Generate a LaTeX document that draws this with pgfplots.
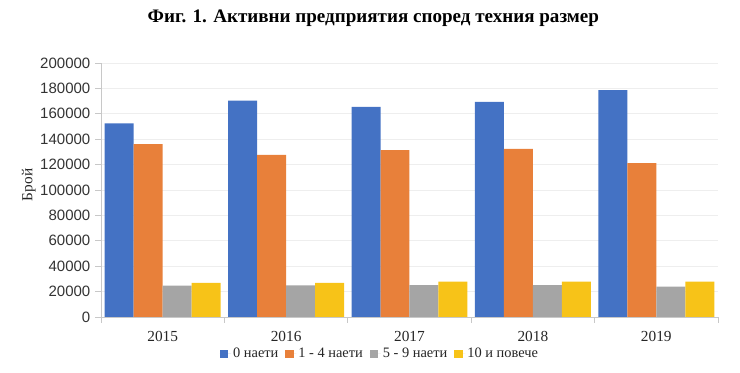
\documentclass[border=0pt]{standalone}
\usepackage{fontspec}
\setmainfont{Liberation Serif}
\newfontfamily\sansf{Liberation Sans}
\usepackage{pgfplots}
\pgfplotsset{compat=1.18}
\definecolor{cBlue}{HTML}{4472C4}
\definecolor{cOrange}{HTML}{E8803A}
\definecolor{cGray}{HTML}{A5A5A5}
\definecolor{cYellow}{HTML}{F7C318}
\definecolor{axgray}{HTML}{C8C8C8}
\definecolor{gridgray}{HTML}{EEEEEE}
\begin{document}
\begin{tikzpicture}
\useasboundingbox (0,0) rectangle (555pt,279.75pt);
\node[font=\fontsize{14.3}{16}\selectfont\bfseries] at (280pt,266.25pt) {Фиг. 1. Активни предприятия според техния размер};
\begin{axis}[
  at={(75.75pt,42pt)}, anchor=south west,
  scale only axis, width=462.75pt, height=190.5pt,
  xmin=-0.5, xmax=4.5, ymin=0, ymax=200000,
  ybar,
  axis lines*=left,
  axis line style={draw=axgray},
  tick style={draw=axgray, line width=0.6pt},
  tick align=outside,
  major tick length=4.5pt,
  xtick={-0.5,0.5,1.5,2.5,3.5,4.5},
  x tick label as interval,
  xticklabels={2015,2016,2017,2018,2019},
  xticklabel style={font=\fontsize{11.5}{13}\selectfont, text=black!85, yshift=-5pt, inner sep=1pt},
  ytick={0,20000,...,200000},
  ymajorgrids,
  major grid style={draw=gridgray, line width=0.6pt},
  scaled y ticks=false,
  yticklabel style={font=\sansf\fontsize{11.25}{13}\selectfont, text=black!80,
    /pgf/number format/.cd, fixed, 1000 sep={}, assume math mode=true},
  ylabel={Брой},
  ylabel style={at={(axis description cs:-0.117,0.52)}, anchor=center, font=\fontsize{11.5}{13}\selectfont, text=black!85},
  legend style={at={(axis description cs:0.452,-0.145)}, anchor=center, draw=none,
    font=\fontsize{10.8}{12}\selectfont, text=black!85, legend columns=-1,
    /tikz/every even column/.append style={column sep=3.5pt},
    inner sep=0pt, nodes={inner sep=1.5pt}},
  legend image code/.code={\fill[#1] (0pt,-3.2pt) rectangle (6.4pt,3.2pt); \path (0pt,0pt) -- (8.5pt,0pt);},
]
\addplot[draw=none, fill=cBlue, bar width=0.235, bar shift=-0.3525] coordinates {(0,152400) (1,170300) (2,165500) (3,169300) (4,178700)};
\addplot[draw=none, fill=cOrange, bar width=0.235, bar shift=-0.1175] coordinates {(0,136100) (1,127700) (2,131400) (3,132400) (4,121200)};
\addplot[draw=none, fill=cGray, bar width=0.235, bar shift=0.1175] coordinates {(0,24700) (1,24800) (2,25000) (3,25000) (4,24000)};
\addplot[draw=none, fill=cYellow, bar width=0.235, bar shift=0.3525] coordinates {(0,26800) (1,26800) (2,27900) (3,27900) (4,27900)};
\legend{0 наети, 1 - 4 наети, 5 - 9 наети, 10 и повече}
\end{axis}
\end{tikzpicture}
\end{document}
